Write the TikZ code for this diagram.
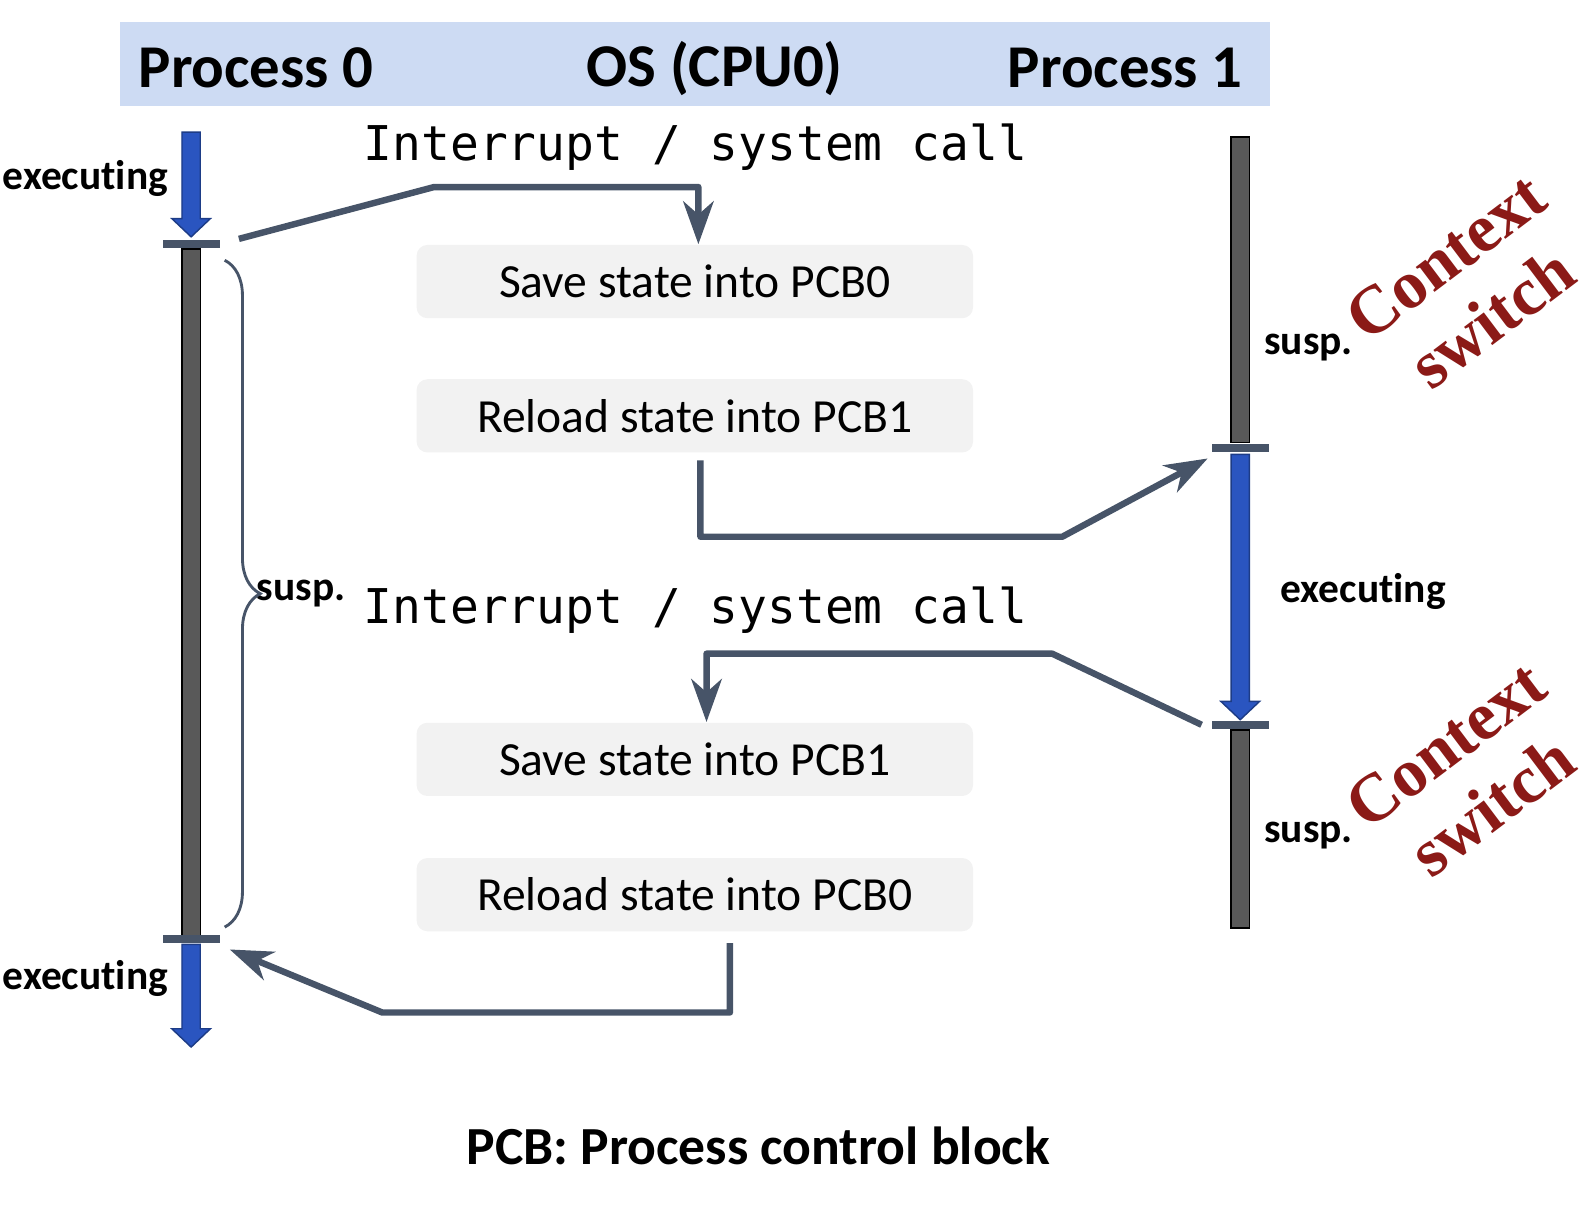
\documentclass[tikz,border=0pt]{standalone}
\usepackage{fontspec}
\setmainfont[Ligatures=NoCommon, Contextuals=NoAlternate]{Carlito}
\setmonofont{DejaVu Sans Mono}
\newfontfamily\ctxfont{Liberation Serif}
\usepackage{tikz}
\usetikzlibrary{arrows.meta, positioning, decorations.pathreplacing}
\definecolor{hdrblue}{HTML}{CDDBF3}
\definecolor{slate}{HTML}{475468}
\definecolor{runblue}{HTML}{2A55C0}
\definecolor{bargray}{HTML}{595959}
\definecolor{boxgray}{HTML}{F2F2F2}
\definecolor{ctxred}{HTML}{8B1A17}
\tikzstyle{header} = [font=\bfseries\fontsize{17pt}{20pt}\selectfont]
\tikzstyle{state} = [rectangle, rounded corners=3pt, 
minimum width=5.47cm, 
minimum height=0.72cm, 
text centered, 
fill=boxgray, 
font=\fontsize{13.3pt}{16pt}\selectfont]
\tikzstyle{syscall} = [font=\ttfamily\fontsize{13.4pt}{16pt}\selectfont]
\tikzstyle{status} = [inner sep=0pt, font=\bfseries\fontsize{11.6pt}{14pt}\selectfont]
\tikzstyle{ctxswitch} = [rotate=37, align=center, 
text=ctxred, 
font=\ctxfont\bfseries\fontsize{19pt}{21.5pt}\selectfont]
\tikzstyle{bar} = [rectangle, minimum width=0.18cm, 
draw=black, line width=0.4pt, 
fill=bargray, inner sep=0pt]
\tikzstyle{tick} = [rectangle, minimum width=0.56cm, 
minimum height=0.08cm, 
fill=slate, inner sep=0pt]
\tikzstyle{runarrow} = [fill=runblue, draw=runblue!70!black, line width=0.4pt]
\tikzstyle{arrow} = [line width=1.8pt, draw=slate, line join=round,
-{Stealth[length=12pt, width=8.5pt, inset=3.7pt]}]

\begin{document}
\begin{tikzpicture}[x=0.01cm, y=-0.01cm, node distance=1.32cm]

    \useasboundingbox (0,0) rectangle (1568,1186);

    % header
    \node (header) [fill=hdrblue, minimum width=11.31cm, minimum height=0.82cm] at (683.5,63) {};
    \node (hdr_p0) [header] at (252,67) {Process 0};
    \node (hdr_os) [header] at (703,67) {OS (CPU0)};
    \node (hdr_p1) [header] at (1107,67) {Process 1};

    % OS side
    \node (irq_0) [syscall] at (684,145) {Interrupt / system call};
    \node (save_pcb0) [state] at (683.5,277) {Save state into PCB0};
    \node (reload_pcb1) [state, below of=save_pcb0] {Reload state into PCB1};
    \node (irq_1) [syscall] at (684,600) {Interrupt / system call};
    \node (save_pcb1) [state] at (683.5,747) {Save state into PCB1};
    \node (reload_pcb0) [state, below of=save_pcb1, yshift=-0.01cm] {Reload state into PCB0};

    % time lines
    \node (bar_p0) [bar, minimum height=6.75cm] at (188,582.5) {};
    \node (bar_p1_top) [bar, minimum height=3cm] at (1220,285) {};
    \node (bar_p1_bot) [bar, minimum height=1.95cm] at (1220,815.5) {};

    \foreach \x/\ytop/\ytip in {188/130/233, 188/929/1030, 1220/447/708}
        \draw [runarrow] (\x-9,\ytop) -- (\x+9,\ytop) -- (\x+9,\ytip-18) -- (\x+19,\ytip-18)
            -- (\x,\ytip) -- (\x-19,\ytip-18) -- (\x-9,\ytip-18) -- cycle;

    \node (tick_p0_out) [tick] at (188,240) {};
    \node (tick_p0_in) [tick] at (188,924) {};
    \node (tick_p1_in) [tick] at (1220,441) {};
    \node (tick_p1_out) [tick] at (1220,713) {};

    \node (exec_p0_a) [status, anchor=east] at (166,176) {executing};
    \node (exec_p0_b) [status, anchor=east] at (166,963) {executing};
    \node (exec_p1) [status, anchor=west] at (1259,582) {executing};
    \node (susp_p0) [status, anchor=west] at (252,584) {susp.};
    \node (susp_p1_a) [status, anchor=west] at (1243,342) {susp.};
    \node (susp_p1_b) [status, anchor=west] at (1243,822) {susp.};

    \coordinate (brace_top) at (221,256);
    \coordinate (brace_bot) at (221,912);
    \draw [slate, line width=0.8pt, decorate, decoration={brace, amplitude=0.35cm}] (brace_top) -- (brace_bot);

    \node (ctx_a) [ctxswitch] at (1445,283) {Context\\switch};
    \node (ctx_b) [ctxswitch] at (1445,763) {Context\\switch};

    \node (pcb_note) [header, font=\bfseries\fontsize{15pt}{18pt}\selectfont] at (746,1127) {PCB: Process control block};

    % connectors
    \coordinate (irq0_from) at (235,235);
    \coordinate (run1_to) at (1188,451);
    \coordinate (irq1_from) at (1182,713);
    \coordinate (run0_to) at (226,934);

    \draw [arrow] (irq0_from) -- (427,184) -| ([xshift=0.035cm]save_pcb0.north);
    \draw [arrow] ([xshift=0.055cm, yshift=-0.07cm]reload_pcb1.south) |- (1045,528) -- (run1_to);
    \draw [arrow] (irq1_from) -- (1035,643) -| ([xshift=0.115cm]save_pcb1.north);
    \draw [arrow] ([xshift=0.345cm, yshift=-0.11cm]reload_pcb0.south) |- (376,996) -- (run0_to);

  \end{tikzpicture}
\end{document}
